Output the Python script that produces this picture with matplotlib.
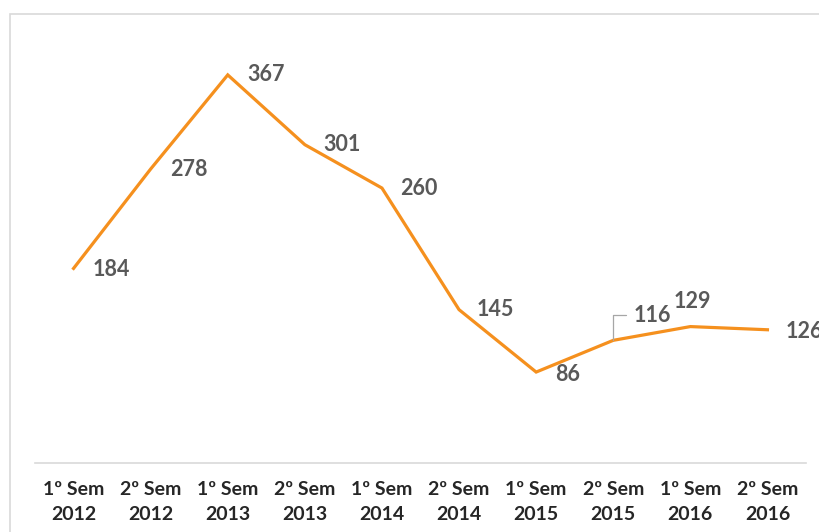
import matplotlib.pyplot as plt
from matplotlib.patches import Rectangle

semestres = ["1º Sem\n2012", "2º Sem\n2012", "1º Sem\n2013", "2º Sem\n2013",
             "1º Sem\n2014", "2º Sem\n2014", "1º Sem\n2015", "2º Sem\n2015",
             "1º Sem\n2016", "2º Sem\n2016"]
valores = [184, 278, 367, 301, 260, 145, 86, 116, 129, 126]

# deslocamento (pontos) de cada rótulo em relação ao ponto
offsets = [(14, -1), (14, 0), (14, 0), (13, 0), (13, 0),
           (13, 0), (14, -2), (15, 18), (-12, 18), (13, -1)]

plt.rcParams['font.family'] = ['Lato', 'DejaVu Sans']

fig = plt.figure(figsize=(8.19, 5.32), dpi=100)
fig.patches.append(Rectangle((10 / 819, -0.1), 1.1, 1 - 14 / 532 + 0.1,
                             transform=fig.transFigure, fill=False,
                             edgecolor='#d9d9d9', linewidth=1.2))

ax = fig.add_axes([35 / 819, 69 / 532, 771 / 819, 423 / 532])
x = list(range(len(valores)))
ax.plot(x, valores, color='#F5901E', linewidth=2.3, solid_joinstyle='miter')

for i, v in enumerate(valores):
    dx, dy = offsets[i]
    props = None
    if i == 7:
        props = dict(arrowstyle='-', color='#a6a6a6', linewidth=0.9,
                     connectionstyle='angle,angleA=0,angleB=90,rad=0',
                     shrinkA=4, shrinkB=0)
    ax.annotate(str(v), (i, v), xytext=(dx, dy), textcoords='offset points',
                ha='left', va='center', fontsize=15.5, fontweight='bold',
                color='#595959', arrowprops=props, annotation_clip=False)

ax.set_xlim(-0.5, len(valores) - 0.5)
ax.set_ylim(0, 400)
ax.set_xticks(x)
ax.set_xticklabels(semestres, fontsize=14, fontweight='bold', color='#262626',
                   linespacing=1.6)
ax.tick_params(axis='x', length=0, pad=13)
ax.set_yticks([])
for s in ['top', 'right', 'left']:
    ax.spines[s].set_visible(False)
ax.spines['bottom'].set_color('#d9d9d9')
ax.spines['bottom'].set_linewidth(1.2)

fig.savefig('out.png', dpi=100)
